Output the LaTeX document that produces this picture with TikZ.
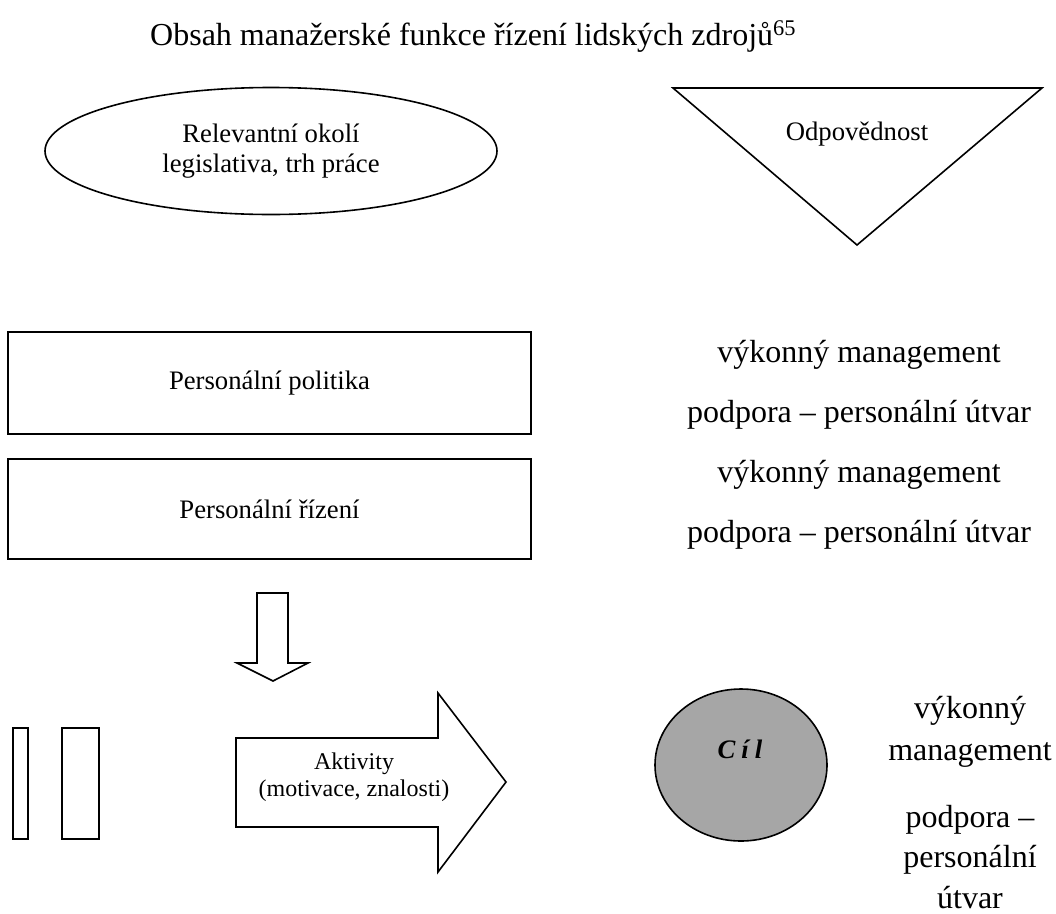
\documentclass[tikz,border=0pt]{standalone}
\usepackage{fontspec}
\setmainfont{Liberation Serif}
\usetikzlibrary{shapes.geometric}
\definecolor{goalgray}{RGB}{166,166,166}

\begin{document}
\begin{tikzpicture}[x=1pt,y=-1pt,
  txtbig/.style={font=\fontsize{32}{41}\selectfont, inner sep=0pt},
  txtmid/.style={font=\fontsize{26.7}{30}\selectfont, inner sep=0pt},
  txtsmall/.style={font=\fontsize{24}{27}\selectfont, inner sep=0pt},
  outline/.style={draw=black, line width=1.6pt},
  box/.style={draw=black, line width=2.4pt, inner sep=0pt},
]
\useasboundingbox (0,0) rectangle (1056,913);

% heading
\node[txtbig, anchor=base west] (title) at (150,45)
  {Obsah manažerské funkce řízení lidských zdrojů\textsuperscript{65}};

% environment ellipse
\node[ellipse, outline, minimum width=452, minimum height=127, inner sep=0pt,
      txtmid, align=center] (env) at (271,151)
  {Relevantní okolí\\legislativa, trh práce};

% responsibility triangle
\coordinate (tl) at (673,88);
\coordinate (tr) at (1042,88);
\coordinate (tb) at (857,245);
\draw[outline, line join=miter] (tl) -- (tr) -- (tb) -- cycle;
\node[txtmid, anchor=base] (resp) at (857,140) {Odpovědnost};

% personnel boxes
\node[box, minimum width=523, minimum height=102, txtmid] (policy) at (269.5,383)
  {Personální politika};
\node[box, minimum width=523, minimum height=100, txtmid] (mgmt) at (269.5,509)
  {Personální řízení};

% responsibilities beside the boxes
\node[txtbig, anchor=base] (r1) at (859,362) {výkonný management};
\node[txtbig, anchor=base] (r2) at (859,422) {podpora – personální útvar};
\node[txtbig, anchor=base] (r3) at (859,482) {výkonný management};
\node[txtbig, anchor=base] (r4) at (859,542) {podpora – personální útvar};

% block arrow pointing down
\draw[outline, line join=miter] (257,593) -- (288,593) -- (288,663) -- (308,663)
  -- (273,681) -- (237,663) -- (257,663) -- cycle;

% two upright bars
\node[outline, minimum width=15, minimum height=111, inner sep=0pt] (barA) at (20.5,783.5) {};
\node[outline, minimum width=37, minimum height=111, inner sep=0pt] (barB) at (80.5,783.5) {};

% activities arrow
\draw[outline, line join=miter] (236,738) -- (438,738) -- (438,693) -- (506,782)
  -- (438,872) -- (438,827) -- (236,827) -- cycle;
\node[txtsmall, align=center] (act) at (354,777.5) {Aktivity\\(motivace, znalosti)};

% goal
\node[ellipse, outline, fill=goalgray, minimum width=172, minimum height=152,
      inner sep=0pt] (goal) at (741,765) {};
\node[font=\fontsize{26.7}{30}\selectfont\bfseries\itshape, inner sep=0pt,
      anchor=base] (goallbl) at (740,758) {C\kern6pt í\kern6pt l};

% responsibilities beside the goal
\node[txtbig, anchor=base] (g1) at (970,718) {výkonný};
\node[txtbig, anchor=base] (g2) at (970,760) {management};
\node[txtbig, anchor=base] (g3) at (970,827) {podpora –};
\node[txtbig, anchor=base] (g4) at (970,867) {personální};
\node[txtbig, anchor=base] (g5) at (970,908) {útvar};
\end{tikzpicture}
\end{document}
